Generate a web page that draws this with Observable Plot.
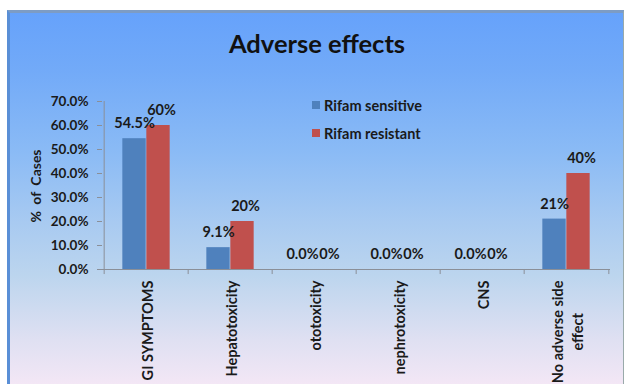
<!DOCTYPE html>
<html>
<head>
<meta charset="utf-8">
<script src="https://cdn.jsdelivr.net/npm/d3@7"></script>
<script src="https://cdn.jsdelivr.net/npm/@observablehq/plot@0.6"></script>
<style>
  html, body { margin: 0; padding: 0; background: #fff; width: 625px; height: 384px; overflow: hidden; }
  body { position: relative; font-family: Lato, "Open Sans", sans-serif; }
  #frame {
    position: absolute; left: 7px; top: 10px; width: 613px; height: 380px;
    border-top: 3px solid #7d9cc4; border-left: 3px solid #5a8fd6; border-right: 1px solid #9aa;
    background: linear-gradient(to bottom, #66a2fb 0%, #72aaf8 15%, #8bbbf5 37%, #a8caf1 55%, #bcd5ee 69%, #dfe0f2 86%, #f7e8f6 100%);
  }
  #title { position: absolute; left: 0; width: 634px; top: 28px; text-align: center; font-weight: bold; font-size: 25.5px; color: #111; }
  #legend { position: absolute; left: 312px; top: 96px; font-weight: bold; font-size: 14.5px; color: #1a1a1a; }
  #legend .row { display: flex; align-items: center; height: 18px; margin-bottom: 10px; }
  #legend .sw { width: 8px; height: 8px; margin-right: 4px; }
  #ylabel { position: absolute; left: 35px; top: 186px; transform: translate(-50%, -50%) rotate(-90deg); font-weight: bold; font-size: 14px; word-spacing: 3px; white-space: nowrap; color: #1a1a1a; }
  #chart { position: absolute; left: 0; top: 0; }
  #chart svg { background: transparent; overflow: visible; }
</style>
</head>
<body>
<div id="frame"></div>
<div id="title">Adverse effects</div>
<div id="ylabel">% of Cases</div>
<div id="legend"></div>
<div id="chart"></div>
<script>
const categories = ["GI SYMPTOMS", "Hepatotoxicity", "ototoxicity", "nephrotoxicity", "CNS", "No adverse side\neffect"];
const sensitive = [54.5, 9.1, 0, 0, 0, 21];
const resistant = [60, 20, 0, 0, 0, 40];
const sensitiveLabels = ["54.5%", "9.1%", "0.0%", "0.0%", "0.0%", "21%"];
const resistantLabels = ["60%", "20%", "0%", "0%", "0%", "40%"];
const seriesNames = ["Rifam sensitive", "Rifam resistant"];
const seriesColors = ["#4f81bd", "#c0504d"];
const yTicks = [0, 10, 20, 30, 40, 50, 60, 70];

const sData = categories.map((c, i) => ({cat: c, v: sensitive[i], label: sensitiveLabels[i]}));
const rData = categories.map((c, i) => ({cat: c, v: resistant[i], label: resistantLabels[i]}));

// legend
const legend = document.getElementById("legend");
seriesNames.forEach((n, i) => {
  const row = document.createElement("div");
  row.className = "row";
  row.innerHTML = `<span class="sw" style="background:${seriesColors[i]}"></span><span>${n}</span>`;
  legend.appendChild(row);
});

const W = 625, ML = 102, MR = 15;
const band = (W - ML - MR) / categories.length;
const barW = 24;
const outer = (band - 2 * barW) / 2;
const textStyle = {fontWeight: "bold", fontSize: 14.5, fill: "#1a1a1a", fontFamily: "Lato, sans-serif"};

const svg = Plot.plot({
  width: W,
  height: 384,
  marginLeft: ML,
  marginRight: MR,
  marginTop: 101,
  marginBottom: 115,
  style: {background: "transparent", fontFamily: "Lato, sans-serif"},
  x: {domain: categories, padding: 0},
  y: {domain: [0, 70]},
  marks: [
    Plot.barY(sData, {x: "cat", y: "v", fill: seriesColors[0], insetLeft: outer, insetRight: outer + barW}),
    Plot.barY(rData, {x: "cat", y: "v", fill: seriesColors[1], insetLeft: outer + barW, insetRight: outer}),
    Plot.ruleY([0], {stroke: "#8a8f98", strokeWidth: 1}),
    Plot.ruleX([categories[0]], {y1: 0, y2: 70, dx: -band / 2, stroke: "#8a8f98"}),
    Plot.ruleX(categories, {y1: 0, y2: -2.1, dx: -band / 2, stroke: "#8a8f98"}),
    Plot.ruleX([categories[categories.length - 1]], {y1: 0, y2: -2.1, dx: band / 2, stroke: "#8a8f98"}),
    Plot.text(sData, {x: "cat", y: "v", text: "label", dx: -barW / 2, dy: -15, ...textStyle}),
    Plot.text(rData, {x: "cat", y: "v", text: "label", dx: barW / 2 + 3, dy: -15, ...textStyle}),
    Plot.axisY({ticks: yTicks, tickFormat: d => d.toFixed(1) + "%", tickSize: 5, tickPadding: 9, stroke: "#8a8f98", label: null, fontSize: 13.5, fontWeight: "bold", fill: "#1a1a1a"}),
    Plot.axisX({tickSize: 0, tickPadding: 11, tickRotate: -90, label: null, fontSize: 14.5, lineHeight: 1.35, fontWeight: "bold", fill: "#1a1a1a"})
  ]
});
document.getElementById("chart").appendChild(svg);

// center the two-line category label like the original
svg.querySelectorAll("text").forEach(t => {
  if (t.textContent.includes("No adverse")) {
    const spans = t.querySelectorAll("tspan");
    if (spans.length > 1) {
      const L = spans[0].getComputedTextLength();
      t.setAttribute("text-anchor", "middle");
      t.style.textAnchor = "middle";
      t.setAttribute("transform", (t.getAttribute("transform") || "") + ` translate(${-L / 2},0)`);
    }
  }
});
</script>
</body>
</html>
